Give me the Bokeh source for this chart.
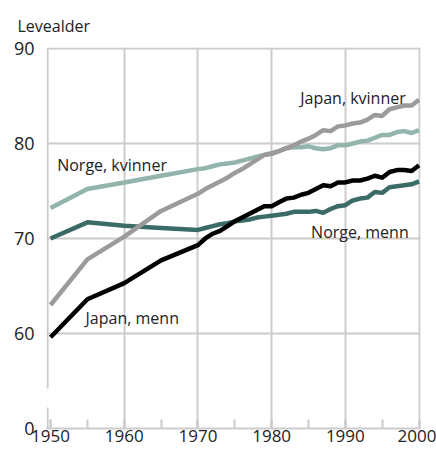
from bokeh.plotting import figure
from bokeh.models import FixedTicker, Label, SingleIntervalTicker
from bokeh.embed import file_html
from bokeh.resources import INLINE

# ---- data ----
years = [1950, 1955, 1960, 1965, 1970,
         1971, 1972, 1973, 1974, 1975, 1976, 1977, 1978, 1979, 1980,
         1981, 1982, 1983, 1984, 1985, 1986, 1987, 1988, 1989, 1990,
         1991, 1992, 1993, 1994, 1995, 1996, 1997, 1998, 1999, 2000]

japan_menn = [59.6, 63.6, 65.3, 67.7, 69.3,
              70.0, 70.5, 70.8, 71.3, 71.8, 72.2, 72.6, 73.0, 73.4, 73.4,
              73.8, 74.2, 74.3, 74.6, 74.8, 75.2, 75.6, 75.5, 75.9, 75.9,
              76.1, 76.1, 76.3, 76.6, 76.4, 77.0, 77.2, 77.2, 77.1, 77.7]

japan_kvinner = [63.0, 67.8, 70.2, 72.9, 74.7,
                 75.2, 75.6, 76.0, 76.4, 76.9, 77.3, 77.8, 78.3, 78.8, 78.9,
                 79.2, 79.5, 79.8, 80.2, 80.5, 80.9, 81.4, 81.3, 81.8, 81.9,
                 82.1, 82.2, 82.5, 83.0, 82.9, 83.6, 83.8, 84.0, 84.0, 84.6]

norge_kvinner = [73.2, 75.2, 75.9, 76.6, 77.3,
                 77.4, 77.6, 77.8, 77.9, 78.0, 78.2, 78.4, 78.6, 78.8, 79.0,
                 79.2, 79.5, 79.6, 79.6, 79.7, 79.5, 79.4, 79.5, 79.8, 79.8,
                 80.0, 80.2, 80.3, 80.6, 80.9, 80.9, 81.2, 81.3, 81.1, 81.4]

norge_menn = [70.0, 71.7, 71.35, 71.1, 70.9,
              71.1, 71.3, 71.5, 71.6, 71.8, 71.9, 72.0, 72.2, 72.3, 72.4,
              72.5, 72.6, 72.8, 72.8, 72.8, 72.9, 72.7, 73.1, 73.4, 73.5,
              74.0, 74.2, 74.3, 74.9, 74.8, 75.4, 75.5, 75.6, 75.7, 76.0]

x_ticks = [1950, 1960, 1970, 1980, 1990, 2000]
y_ticks = [50, 60, 70, 80, 90]
y_tick_labels = {50: "0"}
y_title = "Levealder"

FONT = "Open Sans"
GRID = "#cccccc"

p = figure(width=436, height=450, x_range=(1949.45, 2000.2), y_range=(50, 90.1),
           output_backend="svg", toolbar_location=None,
           min_border_left=46, min_border_right=16, min_border_top=47, min_border_bottom=22)
p.outline_line_color = None
p.background_fill_color = "white"
p.border_fill_color = "white"

p.title.text = y_title
p.title.text_font = FONT
p.title.text_font_size = "16px"
p.title.text_font_style = "normal"
p.title.text_color = "#222222"
p.title.align = "left"
p.title.offset = -29
p.title.standoff = 22

# x axis
p.xaxis.ticker = SingleIntervalTicker(interval=10, num_minor_ticks=2)
p.xaxis.axis_line_color = GRID
p.xaxis.axis_line_width = 2
p.xaxis.major_tick_in = 9
p.xaxis.major_tick_out = 0
p.xaxis.minor_tick_in = 9
p.xaxis.minor_tick_out = 0
p.xaxis.major_tick_line_color = GRID
p.xaxis.minor_tick_line_color = GRID
p.xaxis.major_tick_line_width = 2
p.xaxis.minor_tick_line_width = 2
p.xaxis.major_label_text_font = FONT
p.xaxis.major_label_text_font_size = "17px"
p.xaxis.major_label_text_color = "#222222"
p.xaxis.major_label_standoff = 1

# y axis
p.yaxis.ticker = FixedTicker(ticks=y_ticks)
p.yaxis.major_label_overrides = y_tick_labels
p.yaxis.axis_line_color = None
p.yaxis.major_tick_line_color = None
p.yaxis.minor_tick_line_color = None
p.yaxis.major_label_text_font = FONT
p.yaxis.major_label_text_font_size = "18px"
p.yaxis.major_label_text_color = "#222222"
p.yaxis.major_label_standoff = 6

# grids
p.xgrid.ticker = FixedTicker(ticks=x_ticks[1:])
p.ygrid.ticker = FixedTicker(ticks=y_ticks[1:])
p.xgrid.grid_line_color = GRID
p.ygrid.grid_line_color = GRID
p.xgrid.grid_line_width = 2
p.ygrid.grid_line_width = 2

# broken y axis line
p.segment(x0=[1949.6, 1949.6], y0=[50, 54.2], x1=[1949.6, 1949.6], y1=[52.2, 90],
          line_color=GRID, line_width=2)

LW = 4.5
p.line(years, norge_kvinner, line_color="#92b4ad", line_width=LW, line_join="round")
p.line(years, norge_menn, line_color="#3b6b66", line_width=LW, line_join="round")
p.line(years, japan_kvinner, line_color="#9b9b9b", line_width=LW, line_join="round")
p.line(years, japan_menn, line_color="#000000", line_width=LW, line_join="round")

def lab(x, y, text, align, size="16px"):
    p.add_layout(Label(x=x, y=y, text=text, text_font=FONT, text_font_size=size,
                       text_color="#222222", text_align=align, text_baseline="alphabetic"))

lab(1950.9, 77.7, "Norge, kvinner", "left")
lab(1998.2, 84.75, "Japan, kvinner", "right")
lab(1998.6, 70.65, "Norge, menn", "right")
lab(1954.75, 61.6, "Japan, menn", "left")

open("out.html", "w").write(file_html(p, INLINE))
